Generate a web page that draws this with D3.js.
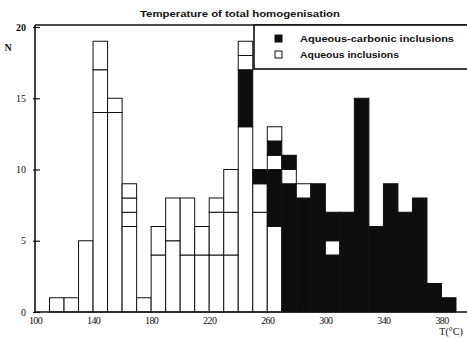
<!DOCTYPE html>
<html>
<head>
<meta charset="utf-8">
<script src="https://cdn.jsdelivr.net/npm/d3@7"></script>
<style>
  html, body { margin: 0; padding: 0; background: #fff; }
  svg { display: block; }
</style>
</head>
<body>
<svg id="chart" width="467" height="339"></svg>
<script>
// Histogram of homogenisation temperatures, 10 °C classes.
const title = "Temperature of total homogenisation";
const seriesKeys = ["ac", "aq"];
const seriesNames = ["Aqueous-carbonic inclusions", "Aqueous inclusions"];

// lower edge of each temperature class (°C)
const binStart = [110, 120, 130, 140, 150, 160, 170, 180, 190, 200, 210, 220, 230,
                  240, 250, 260, 270, 280, 290, 300, 310, 320, 330, 340, 350, 360, 370, 380];

// stacked blocks of each class, bottom to top: [series key, count]
const columns = [
  [["aq", 1]],
  [["aq", 1]],
  [["aq", 5]],
  [["aq", 14], ["aq", 3], ["aq", 2]],
  [["aq", 14], ["aq", 1]],
  [["aq", 6], ["aq", 1], ["aq", 1], ["aq", 1]],
  [["aq", 1]],
  [["aq", 4], ["aq", 2]],
  [["aq", 5], ["aq", 3]],
  [["aq", 4], ["aq", 4]],
  [["aq", 4], ["aq", 2]],
  [["aq", 4], ["aq", 3], ["aq", 1]],
  [["aq", 4], ["aq", 3], ["aq", 3]],
  [["aq", 13], ["ac", 4], ["aq", 1], ["aq", 1]],
  [["aq", 7], ["aq", 2], ["ac", 1]],
  [["aq", 6], ["ac", 4], ["aq", 1], ["ac", 1], ["aq", 1]],
  [["ac", 9], ["aq", 1], ["ac", 1]],
  [["ac", 8], ["aq", 1]],
  [["ac", 9]],
  [["ac", 4], ["aq", 1], ["ac", 2]],
  [["ac", 7]],
  [["ac", 15]],
  [["ac", 6]],
  [["ac", 9]],
  [["ac", 7]],
  [["ac", 8]],
  [["ac", 2]],
  [["ac", 1]]
];

const xTicks = [100, 140, 180, 220, 260, 300, 340, 380];
const yTicks = [0, 5, 10, 15, 20];
const binWidth = 10;

const ink = "#111";
const fillFor = { ac: "#0d0d0d", aq: "#ffffff" };

const svg = d3.select("#chart");
const x = d3.scaleLinear().domain([100, 390]).range([35, 456]);
const y = d3.scaleLinear().domain([0, 20]).range([312, 27]);

// flatten stacks into blocks with running bases
const blocks = [];
columns.forEach((col, i) => {
  let base = 0;
  col.forEach(([key, n]) => {
    blocks.push({ start: binStart[i], key, y0: base, y1: base + n });
    base += n;
  });
});

svg.append("g")
  .selectAll("rect")
  .data(blocks)
  .join("rect")
  .attr("x", d => x(d.start))
  .attr("width", d => x(d.start + binWidth) - x(d.start))
  .attr("y", d => y(d.y1))
  .attr("height", d => y(d.y0) - y(d.y1))
  .attr("fill", d => fillFor[d.key])
  .attr("stroke", ink)
  .attr("stroke-width", 1);

// frame: left axis, top and bottom rules
const frame = svg.append("g").attr("stroke", ink).attr("stroke-width", 1.6).attr("fill", "none");
frame.append("line").attr("x1", 35).attr("x2", 35).attr("y1", 25).attr("y2", y(0));
frame.append("line").attr("x1", 35).attr("x2", 467).attr("y1", 25).attr("y2", 25);
frame.append("line").attr("x1", 35).attr("x2", 467).attr("y1", y(0)).attr("y2", y(0));

// y axis ticks and labels
const yAxis = d3.axisLeft(y).tickValues(yTicks).tickSize(0).tickPadding(9).tickFormat(d3.format("d"));
const gy = svg.append("g").attr("transform", "translate(35,0)").call(yAxis);
gy.select(".domain").remove();
gy.selectAll("text")
  .attr("font-family", "'Liberation Serif', serif")
  .attr("font-size", 10)
  .attr("font-weight", d => d === 20 ? "bold" : "normal")
  .attr("fill", ink);
gy.selectAll(".tick").append("line")
  .attr("x1", -2).attr("x2", 5)
  .attr("stroke", ink).attr("stroke-width", 1.2);

// x axis labels
const xAxis = d3.axisBottom(x).tickValues(xTicks).tickSize(0).tickPadding(5).tickFormat(d3.format("d"));
const gx = svg.append("g").attr("transform", `translate(0,${y(0)})`).call(xAxis);
gx.select(".domain").remove();
gx.selectAll("text")
  .attr("font-family", "'Liberation Serif', serif")
  .attr("font-size", 10)
  .attr("letter-spacing", -0.6)
  .attr("fill", ink);

svg.append("text")
  .attr("x", 8).attr("y", 51)
  .attr("text-anchor", "middle")
  .attr("font-family", "'Liberation Serif', serif")
  .attr("font-size", 10).attr("font-weight", "bold")
  .attr("fill", ink)
  .text("N");

svg.append("text")
  .attr("x", 451).attr("y", 335)
  .attr("text-anchor", "middle")
  .attr("font-family", "'Liberation Serif', serif")
  .attr("font-size", 10)
  .attr("fill", ink)
  .text("T(°C)");

// title
svg.append("text")
  .attr("x", 240).attr("y", 17)
  .attr("text-anchor", "middle")
  .attr("font-family", "'Liberation Sans', Arial, sans-serif")
  .attr("font-size", 9.5).attr("font-weight", "bold")
  .attr("textLength", 200).attr("lengthAdjust", "spacingAndGlyphs")
  .attr("fill", ink)
  .text(title);

// legend box
const lg = svg.append("g");
lg.append("rect")
  .attr("x", 254).attr("y", 25).attr("width", 230).attr("height", 44)
  .attr("fill", "#fff").attr("stroke", ink).attr("stroke-width", 1.6);
const items = lg.selectAll("g.item")
  .data(seriesKeys.map((k, i) => ({ key: k, name: seriesNames[i] })))
  .join("g")
  .attr("class", "item")
  .attr("transform", (d, i) => `translate(275,${35 + i * 16})`);
items.append("rect")
  .attr("width", 7).attr("height", 7)
  .attr("fill", d => fillFor[d.key])
  .attr("stroke", ink).attr("stroke-width", 1);
items.append("text")
  .attr("x", 25).attr("y", 7)
  .attr("font-family", "'Liberation Sans', Arial, sans-serif")
  .attr("font-size", 9.5).attr("font-weight", "bold")
  .attr("textLength", (d, i) => i === 0 ? 154 : 99)
  .attr("lengthAdjust", "spacingAndGlyphs")
  .attr("fill", ink)
  .text(d => d.name);
</script>
</body>
</html>
